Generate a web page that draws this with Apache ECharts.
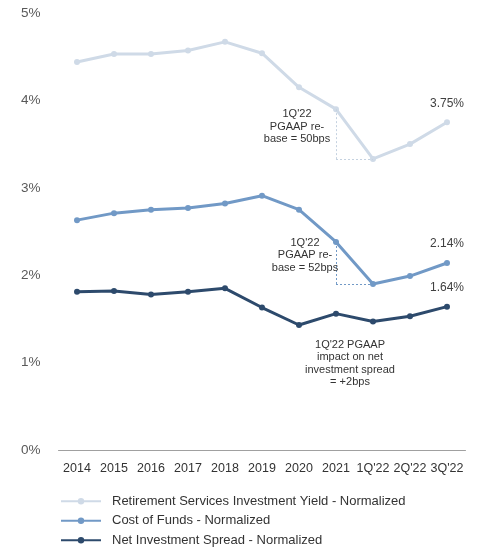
<!DOCTYPE html>
<html><head><meta charset="utf-8">
<script src="https://cdn.jsdelivr.net/npm/echarts@6/dist/echarts.min.js"></script>
<style>html,body{margin:0;padding:0;background:#fff}#c{width:479px;height:550px}</style>
</head><body><div id="c"></div>
<script>
const categories = ["2014","2015","2016","2017","2018","2019","2020","2021","1Q'22","2Q'22","3Q'22"];
const yieldVals = [4.44, 4.53, 4.53, 4.57, 4.67, 4.54, 4.15, 3.90, 3.33, 3.50, 3.75];
const costVals = [2.63, 2.71, 2.75, 2.77, 2.82, 2.91, 2.75, 2.38, 1.90, 1.99, 2.14];
const spreadVals = [1.81, 1.82, 1.78, 1.81, 1.85, 1.63, 1.43, 1.56, 1.47, 1.53, 1.64];
const seriesNames = ["Retirement Services Investment Yield - Normalized","Cost of Funds - Normalized","Net Investment Spread - Normalized"];
const colors = ["#cfdae7", "#7199c6", "#2d4a6c"];
const notes = [
  {coord: ["2020", 3.70], text: "1Q'22\nPGAAP re-\nbase = 50bps", offset: [-2, 0]},
  {coord: ["2020", 2.23], text: "1Q'22\nPGAAP re-\nbase = 52bps", offset: [6, 0]},
  {coord: ["2021", 0.99], text: "1Q'22 PGAAP\nimpact on net\ninvestment spread\n= +2bps", offset: [14, 0]}
];
const font = "Liberation Sans, Arial, sans-serif";

function lastLabel(vals) {
  return vals.map((v, i) => i === vals.length - 1
    ? {value: v, label: {show: true, position: 'top', distance: 10, formatter: v.toFixed(2) + '%', color: '#404040', fontSize: 12, fontFamily: font}}
    : v);
}
function dotted(vals, color) {
  const i21 = categories.indexOf("2021"), iq1 = categories.indexOf("1Q'22");
  return {
    silent: true, symbol: 'none', label: {show: false},
    lineStyle: {type: [2, 2], color: color, width: 1},
    data: [
      [{coord: ["2021", vals[i21]]}, {coord: ["2021", vals[iq1]]}],
      [{coord: ["2021", vals[iq1]]}, {coord: ["1Q'22", vals[iq1]]}]
    ]
  };
}
function note(n) {
  return {
    silent: true, symbol: 'circle', symbolSize: 0,
    data: [{coord: n.coord, label: {show: true, position: 'inside', offset: n.offset, formatter: n.text, color: '#333', fontSize: 11, lineHeight: 12.5, align: 'center', fontFamily: font}}]
  };
}
const chart = echarts.init(document.getElementById('c'), null, {renderer: 'canvas'});
chart.setOption({
  animation: false,
  textStyle: {fontFamily: font},
  grid: {left: 58.5, right: 13.5, top: 13, bottom: 100, containLabel: false},
  xAxis: {
    type: 'category', data: categories, boundaryGap: true,
    axisLine: {lineStyle: {color: '#a0a0a0', width: 1}}, axisTick: {show: false},
    axisLabel: {interval: 0, color: '#333', fontSize: 12.5, margin: 12, fontFamily: font}
  },
  yAxis: {
    type: 'value', min: 0, max: 5, interval: 1,
    splitLine: {show: false}, axisLine: {show: false}, axisTick: {show: false},
    axisLabel: {formatter: '{value}%', color: '#595959', fontSize: 13.5, margin: 18, fontFamily: font}
  },
  legend: {
    orient: 'vertical', left: 60, top: 494, height: 80, padding: 0,
    itemWidth: 40, itemHeight: 8, itemGap: 5,
    textStyle: {color: '#333', fontSize: 13, lineHeight: 14.5, padding: [0, 0, 0, 6], fontFamily: font},
    data: seriesNames
  },
  series: [
    {name: seriesNames[0], type: 'line', data: lastLabel(yieldVals), color: colors[0], symbol: 'circle', symbolSize: 6, lineStyle: {width: 3}, markLine: dotted(yieldVals, '#c5d2e0'), markPoint: note(notes[0])},
    {name: seriesNames[1], type: 'line', data: lastLabel(costVals), color: colors[1], symbol: 'circle', symbolSize: 6, lineStyle: {width: 3}, markLine: dotted(costVals, '#7199c6'), markPoint: note(notes[1])},
    {name: seriesNames[2], type: 'line', data: lastLabel(spreadVals), color: colors[2], symbol: 'circle', symbolSize: 6, lineStyle: {width: 3}, markPoint: note(notes[2])}
  ]
});
</script></body></html>
